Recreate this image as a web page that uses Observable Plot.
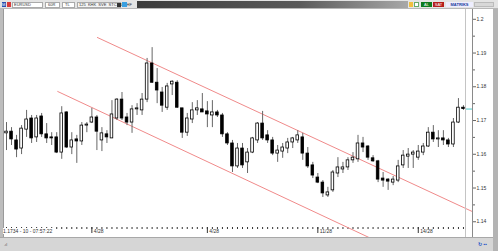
<!DOCTYPE html>
<html><head><meta charset="utf-8">
<script src="https://cdn.jsdelivr.net/npm/d3@7"></script>
<script src="https://cdn.jsdelivr.net/npm/@observablehq/plot@0.6"></script>
<style>
body{margin:0;background:#d4d4d4;}
#wrap{position:relative;width:498px;height:251px;overflow:hidden;background:#cfcfcf;font-family:"Liberation Sans",Arial,sans-serif;}
.a{position:absolute;box-sizing:border-box;}
.t{font-size:5px;line-height:6px;color:#333;white-space:nowrap;}
#chart{position:absolute;left:4px;top:9px;background:#fff;}
</style></head><body>
<div id="wrap">
  <div class="a" style="left:0;top:0;width:498px;height:9px;background:#e4e4e4;border-bottom:1px solid #b8b8b8"></div>
  <div class="a t" style="left:2px;top:2px;width:4px;height:5px;background:#2a4fb0;color:#fff;font-size:4px;line-height:5px">M</div>
  <div class="a" style="left:7px;top:2px;width:4px;height:5px;background:#d83a3a"></div>
  <div class="a t" style="left:12px;top:2px;width:31px;height:6px;background:#fff;border:1px solid #aaa;font-size:4px;line-height:4px;padding-left:1px">EURUSD</div>
  <div class="a t" style="left:45px;top:2px;width:15px;height:6px;background:#fff;border:1px solid #aaa;font-size:4px;line-height:4px;padding-left:2px">60R</div>
  <div class="a t" style="left:62px;top:2px;width:13px;height:6px;background:#fff;border:1px solid #aaa;font-size:4px;line-height:4px;padding-left:2px">TL</div>
  <div class="a t" style="left:77px;top:2px;width:44px;height:6px;background:#f4f4f4;border:1px solid #aaa;font-size:4px;line-height:4px;padding-left:1px">125 &nbsp;KHK &nbsp;SVE &nbsp;STCTAN &nbsp;HF</div>
  <div class="a" style="left:117px;top:3px;width:4px;height:4px;background:#333"></div>
  <div class="a" style="left:122px;top:2px;width:5px;height:5px;background:#3aa0e0"></div>
  <div class="a" style="left:137px;top:1px;width:271px;height:7px;background:linear-gradient(to right,#3c3c3c,#5a5a5a 60%,#a8a8a8)"></div>
  <div class="a" style="left:409px;top:2px;width:4px;height:5px;background:#f0c040"></div>
  <div class="a" style="left:414px;top:2px;width:5px;height:5px;background:#fff;border:1px solid #6a6"></div>
  <div class="a t" style="left:421px;top:2px;width:11px;height:5px;background:#0d7a1e;color:#fff;font-size:4px;line-height:5px;text-align:center">AL</div>
  <div class="a t" style="left:433px;top:2px;width:11px;height:5px;background:#b51d1d;color:#fff;font-size:4px;line-height:5px;text-align:center">SAT</div>
  <div class="a t" style="left:446px;top:2px;width:27px;height:5px;background:#eef;color:#223a9a;font-size:4px;line-height:5px;text-align:center;font-weight:bold">MATRIKS</div>
  <div class="a" style="left:474px;top:2px;width:20px;height:5px;background:#d8d8d8;border:1px solid #bbb"></div>
  <div class="a" style="left:0;top:9px;width:4px;height:228px;background:#bdbdbd;border-right:1px solid #9a9a9a"></div>
  <div id="chart"></div>
  <div class="a" style="left:465px;top:9px;width:1px;height:228px;background:#c4c4c4"></div>
  <div class="a" style="left:472px;top:9px;width:1px;height:228px;background:#8a8a8a"></div>
  <div class="a" style="left:493px;top:9px;width:5px;height:242px;background:#b4b4b4"></div>
  <div class="a t" id="status" style="left:3px;top:228px;background:#fff;font-size:5px;line-height:6px;padding-right:2px"></div>
  <div class="a" style="left:0;top:237px;width:493px;height:14px;background:#d6d6d6;border-top:1px solid #a8a8a8"></div>
  <div class="a t" style="left:4px;top:242px;font-size:4px;color:#555">.ıl</div>
  <div class="a t" style="left:478px;top:241px;font-size:5px;color:#2456c8;font-weight:bold">↻ ▪▪</div>
</div>
<script>
// ---- data (EURUSD candles) ----
const opens = [1.1662,1.1667,1.1641,1.1617,1.1673,1.1706,1.1650,1.1712,1.1659,1.1650,
1.1650,1.1605,1.1724,1.1620,1.1644,1.1638,1.1685,1.1694,1.1709,1.1641,
1.1659,1.1647,1.1706,1.1762,1.1709,1.1694,1.1733,1.1730,1.1762,1.1869,
1.1812,1.1783,1.1738,1.1807,1.1812,1.1736,1.1664,1.1703,1.1730,1.1733,
1.1727,1.1715,1.1724,1.1715,1.1659,1.1632,1.1564,1.1617,1.1576,1.1605,
1.1641,1.1691,1.1656,1.1641,1.1602,1.1608,1.1617,1.1635,1.1641,1.1650,
1.1602,1.1567,1.1531,1.1516,1.1478,1.1493,1.1543,1.1555,1.1561,1.1582,
1.1585,1.1632,1.1623,1.1588,1.1579,1.1528,1.1525,1.1516,1.1522,1.1567,
1.1593,1.1599,1.1590,1.1605,1.1623,1.1664,1.1644,1.1647,1.1641,1.1629,
1.1694,1.1738];
const highs = [1.1694,1.1679,1.1656,1.1685,1.1730,1.1715,1.1715,1.1721,1.1691,1.1664,
1.1664,1.1741,1.1726,1.1664,1.1656,1.1694,1.1694,1.1736,1.1715,1.1679,
1.1670,1.1759,1.1765,1.1783,1.1721,1.1744,1.1750,1.1780,1.1884,1.1916,
1.1854,1.1798,1.1810,1.1818,1.1818,1.1736,1.1721,1.1753,1.1759,1.1780,
1.1756,1.1759,1.1730,1.1721,1.1664,1.1641,1.1632,1.1632,1.1617,1.1650,
1.1694,1.1727,1.1670,1.1650,1.1626,1.1632,1.1647,1.1650,1.1670,1.1662,
1.1620,1.1576,1.1543,1.1522,1.1502,1.1552,1.1590,1.1576,1.1590,1.1605,
1.1656,1.1650,1.1626,1.1596,1.1582,1.1546,1.1528,1.1534,1.1582,1.1611,
1.1617,1.1611,1.1626,1.1632,1.1679,1.1685,1.1670,1.1670,1.1647,1.1706,
1.1765,1.1744];
const lows = [1.1611,1.1626,1.1590,1.1599,1.1650,1.1632,1.1635,1.1650,1.1632,1.1626,
1.1602,1.1585,1.1617,1.1599,1.1573,1.1626,1.1664,1.1691,1.1611,1.1608,
1.1632,1.1647,1.1700,1.1700,1.1685,1.1662,1.1715,1.1715,1.1753,1.1810,
1.1750,1.1724,1.1730,1.1774,1.1736,1.1647,1.1653,1.1691,1.1715,1.1724,
1.1679,1.1679,1.1709,1.1650,1.1626,1.1546,1.1558,1.1558,1.1543,1.1602,
1.1632,1.1641,1.1632,1.1596,1.1576,1.1588,1.1602,1.1617,1.1632,1.1582,
1.1558,1.1528,1.1513,1.1472,1.1472,1.1487,1.1531,1.1543,1.1552,1.1573,
1.1576,1.1605,1.1582,1.1576,1.1516,1.1502,1.1493,1.1507,1.1516,1.1558,
1.1558,1.1558,1.1582,1.1596,1.1620,1.1635,1.1620,1.1626,1.1620,1.1620,
1.1691,1.1730];
const closes = [1.1667,1.1644,1.1614,1.1676,1.1703,1.1647,1.1706,1.1659,1.1647,1.1647,
1.1605,1.1721,1.1620,1.1641,1.1638,1.1685,1.1688,1.1709,1.1667,1.1662,
1.1650,1.1718,1.1762,1.1706,1.1694,1.1733,1.1736,1.1762,1.1869,1.1812,
1.1789,1.1744,1.1801,1.1815,1.1738,1.1664,1.1706,1.1730,1.1736,1.1724,
1.1718,1.1724,1.1715,1.1659,1.1632,1.1564,1.1617,1.1567,1.1605,1.1647,
1.1691,1.1647,1.1641,1.1602,1.1611,1.1620,1.1635,1.1647,1.1656,1.1602,
1.1564,1.1537,1.1516,1.1484,1.1487,1.1546,1.1561,1.1561,1.1582,1.1590,
1.1632,1.1620,1.1590,1.1579,1.1525,1.1522,1.1519,1.1525,1.1564,1.1596,
1.1599,1.1605,1.1608,1.1623,1.1664,1.1644,1.1647,1.1641,1.1629,1.1694,
1.1738,1.1734];
const yTickValues = [1.14,1.15,1.16,1.17,1.18,1.19,1.2];
const yMinorValues = [1.145,1.155,1.165,1.175,1.185,1.195];
const dateLabels = ["4/28","4/28","11/28","14/28"];
const dateAt = [18,41,63,83];
// channel lines: [candle index, price]
const upperLineIdx = [19.1, 93.8];
const upperLinePrice = [1.1946, 1.1430];
const lowerLineIdx = [11.2, 73.1];
const lowerLinePrice = [1.1786, 1.1354];
const statusText = "1.1734 - 10 - 07:57:22";

const candles = opens.map((o,k)=>({i:k+1,o,h:highs[k],l:lows[k],c:closes[k]}));
const upper = upperLineIdx.map((i,k)=>({i,p:upperLinePrice[k]}));
const lower = lowerLineIdx.map((i,k)=>({i,p:lowerLinePrice[k]}));
const last = candles[candles.length-1];
const dates = dateAt.map((i,k)=>({i,t:dateLabels[k]}));
document.getElementById("status").textContent = statusText;

const chart = Plot.plot({
  width: 489, height: 228,
  marginLeft: 1, marginRight: 21, marginTop: 0, marginBottom: 10,
  style: {background:"#fff", fontFamily:"Liberation Sans, Arial, sans-serif", fontSize:"5px", color:"#333"},
  x: {type:"linear", domain:[0.8, 93.8], axis:null},
  y: {domain:[1.1383, 1.2029], axis:null},
  marks: [
    Plot.axisX(candles.map(d=>d.i), {anchor:"bottom", tickSize:2, tickPadding:0, tickFormat:()=>"", stroke:"#333", label:null}),
    Plot.axisX(dateAt, {anchor:"bottom", tickSize:6, tickFormat:()=>"", stroke:"#333", label:null}),
    Plot.text(dates, {x:"i", text:"t", frameAnchor:"bottom", dy:4, dx:2, textAnchor:"start", lineAnchor:"middle", fill:"#333", fontSize:5}),
    Plot.axisY(yMinorValues, {anchor:"right", tickSize:2, tickFormat:()=>"", stroke:"#666", label:null}),
    Plot.axisY(yTickValues, {anchor:"right", tickSize:3, tickPadding:1, tickFormat:d=>String(d), stroke:"#666", fill:"#333", fontSize:5, label:null}),
    Plot.line(upper, {x:"i", y:"p", stroke:"#f08a8a", strokeWidth:1}),
    Plot.line(lower, {x:"i", y:"p", stroke:"#f08a8a", strokeWidth:1}),
    Plot.ruleX(candles, {x:"i", y1:"l", y2:"h", stroke:"#666", strokeWidth:1}),
    Plot.rect(candles, {x1:d=>d.i-0.26, x2:d=>d.i+0.26, y1:"o", y2:"c",
      fill:d=>d.c>=d.o?"#fff":"#000", stroke:"#000", strokeWidth:0.8}),
    Plot.ruleY([last], {y:"c", x1:d=>d.i+0.6, x2:93.8, stroke:"#4cc8c8", strokeWidth:1})
  ]
});
document.getElementById("chart").appendChild(chart);
</script>
</body></html>
